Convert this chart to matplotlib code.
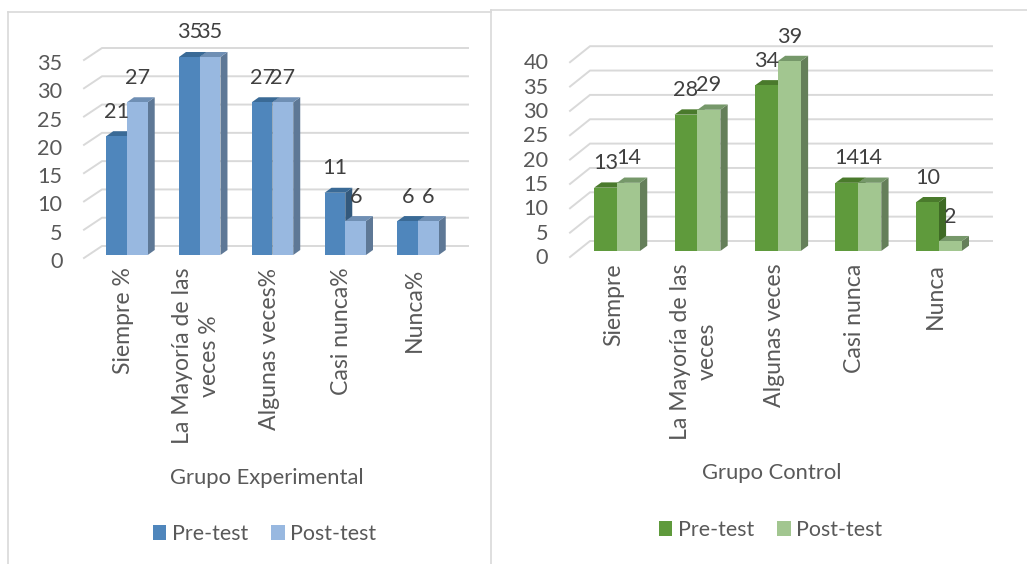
import matplotlib
matplotlib.use("Agg")
import matplotlib.pyplot as plt
from matplotlib.lines import Line2D
from matplotlib.patches import Patch, Polygon
from matplotlib.transforms import ScaledTranslation

W, H = 1027, 564
plt.rcParams['font.family'] = ['Lato', 'DejaVu Sans']

series_names = ["Pre-test", "Post-test"]

exp_categories = ["Siempre %", "La Mayoría de las\nveces %", "Algunas veces%", "Casi nunca%", "Nunca%"]
exp_pre = [21, 35, 27, 11, 6]
exp_post = [27, 35, 27, 6, 6]
exp_ticks = [0, 5, 10, 15, 20, 25, 30, 35]

ctrl_categories = ["Siempre", "La Mayoría de las\nveces", "Algunas veces", "Casi nunca", "Nunca"]
ctrl_pre = [13, 28, 34, 14, 10]
ctrl_post = [14, 29, 39, 14, 2]
ctrl_ticks = [0, 5, 10, 15, 20, 25, 30, 35, 40]

BLUES = dict(pre="#4F86BC", pre_top="#3A6A96", pre_side="#33597C",
             post="#98B8E0", post_top="#6F8FB4", post_side="#5E7896")
GREENS = dict(pre="#5F9A3C", pre_top="#4A7A2C", pre_side="#3F6B25",
              post="#A2C690", post_top="#76986A", post_side="#657F5A")
GRID = "#D9D9D9"
TXT = "#595959"
LBL = "#404040"
FS = 15.8
FS_LEG = 15.4
FS_CAT = 16.6
FS_VAL = 15.6

fig = plt.figure(figsize=(W / 100, H / 100), dpi=100, facecolor="white")


def px_line(xs, ys):
    fig.add_artist(Line2D([x / W for x in xs], [1 - y / H for y in ys],
                          color=GRID, lw=1.2, transform=fig.transFigure))


def panel(rect, cats, pre, post, ticks, ymax, cols, geom, title, title_xy, leg_xy):
    left, right, top, base = rect
    ax = fig.add_axes([left / W, 1 - base / H, (right - left) / W, (base - top) / H])
    ax.set_xlim(-0.5, 4.5)
    ax.set_ylim(0, ymax)
    ax.patch.set_alpha(0)
    for s in ax.spines.values():
        s.set_visible(False)
    sx = (right - left) / 5
    sy = (base - top) / ymax
    # side wall, back wall and floor gridlines
    for t in ticks:
        x0 = -0.5 + (geom["front_x"] - left) / sx
        x1 = -0.5 + (geom["back_x"] - left) / sx
        x2 = -0.5 + (geom["end_x"] - left) / sx
        y0 = t - geom["front_dy"] / sy
        y1 = t + geom["back_dy"] / sy
        ax.plot([x0, x1, x2], [y0, y1, y1], color=GRID, lw=1.4, clip_on=False,
                zorder=1, solid_joinstyle="miter")
    w = 0.285
    dx = geom["dx"] / sx
    dy = geom["dy"] / sy

    def bar3d(x, v, key, z):
        xl, xr = x - w / 2, x + w / 2
        ax.add_patch(Polygon([(xr, 0), (xr + dx, dy), (xr + dx, v + dy), (xr, v)],
                             fc=cols[key + "_side"], ec="none", zorder=z, clip_on=False))
        ax.add_patch(Polygon([(xl, v), (xl + dx, v + dy), (xr + dx, v + dy), (xr, v)],
                             fc=cols[key + "_top"], ec="none", zorder=z, clip_on=False))
        ax.bar(x, v, w, color=cols[key], zorder=z + 0.1, clip_on=False)

    for i, (a, b) in enumerate(zip(pre, post)):
        bar3d(i - w / 2, a, "pre", 3 + i * 0.01)
        bar3d(i + w / 2, b, "post", 4 + i * 0.01)
        for x, v in ((i - w / 2, a), (i + w / 2, b)):
            ax.annotate(str(v), (x, v), xytext=(0, 24.5 * 0.72), textcoords="offset points",
                        ha="center", va="center", fontsize=FS_VAL, color=LBL, zorder=6,
                        annotation_clip=False)
    ax.set_yticks(ticks)
    ax.set_xticks(range(5))
    ax.set_xticklabels(cats, rotation=90, ha="center", va="top", multialignment="center",
                       fontsize=FS_CAT, color=TXT, linespacing=1.36)
    ax.tick_params(axis="both", length=0)
    ax.tick_params(axis="x", pad=9)
    ax.tick_params(axis="y", pad=geom["pad"] * 0.72, labelsize=FS_VAL, labelcolor=TXT)
    for lab in ax.get_yticklabels():
        lab.set_transform(lab.get_transform() + ScaledTranslation(0, -geom["lab_dy"] / 100, fig.dpi_scale_trans))
    for lab in ax.get_xticklabels():
        lab.set_transform(lab.get_transform() + ScaledTranslation(-3.5 / 100, 0, fig.dpi_scale_trans))
    fig.text(title_xy[0] / W, 1 - title_xy[1] / H, title, ha="center", va="center",
             fontsize=FS, color=TXT)
    handles = [Patch(fc=cols["pre"], label=series_names[0]), Patch(fc=cols["post"], label=series_names[1])]
    fig.legend(handles=handles, loc="center", bbox_to_anchor=(leg_xy[0] / W, 1 - leg_xy[1] / H),
               ncol=2, frameon=False, fontsize=FS_LEG, labelcolor=TXT, handlelength=0.65,
               handleheight=0.65, handletextpad=0.27, columnspacing=1.04, borderpad=0,
               borderaxespad=0)
    return ax


px_line([8, 8], [564, 12])
px_line([8, 491], [12, 12])
px_line([491, 491], [564, 10])
px_line([491, 1027], [10, 10])

panel((90.6, 454.4, 57, 255), exp_categories, exp_pre, exp_post, exp_ticks, 35, BLUES,
      dict(front_x=84, back_x=102, end_x=468, front_dy=3, back_dy=9, dx=7, dy=5, pad=28, lab_dy=5),
      "Grupo Experimental", (266.5, 478), (264.5, 534))
panel((576.8, 979, 56.2, 251), ctrl_categories, ctrl_pre, ctrl_post, ctrl_ticks, 40, GREENS,
      dict(front_x=570, back_x=590, end_x=992, front_dy=6, back_dy=10, dx=7.3, dy=5.3, pad=28.5, lab_dy=5),
      "Grupo Control", (771.5, 473), (770.5, 530))

fig.savefig("out.png", dpi=100, facecolor="white")
